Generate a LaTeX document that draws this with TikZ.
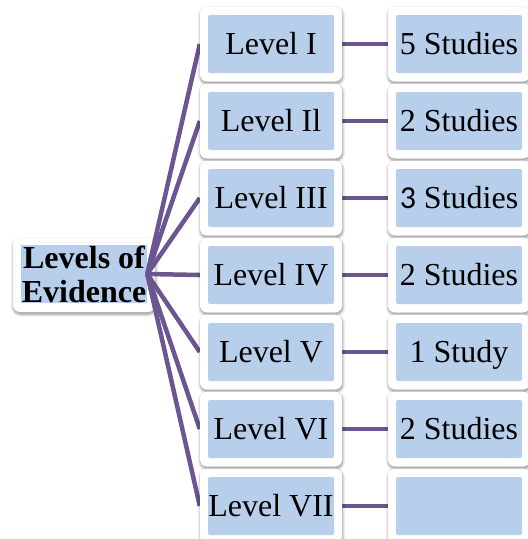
\documentclass[tikz,border=0pt]{standalone}
\usepackage{fontspec}
\setmainfont{Liberation Serif}
\newfontfamily\carlitofont{Carlito}
\usetikzlibrary{shadows.blur}
\definecolor{boxblue}{RGB}{184,207,236}
\definecolor{linkpurple}{RGB}{107,86,145}
\tikzset{
  cardspot/.style={minimum width=142pt, minimum height=75pt, inner sep=0pt},
  card/.style={cardspot, fill=white, rounded corners=7pt,
    blur shadow={shadow xshift=0.5pt, shadow yshift=-2pt, shadow blur radius=3pt, shadow blur steps=8, shadow opacity=45}},
  bluebox/.style={fill=boxblue, rounded corners=2pt, minimum width=126pt, minimum height=58pt, inner sep=0pt,
    font=\fontsize{32}{34}\selectfont, text height=21.2pt, text depth=0pt},
  link/.style={draw=linkpurple, line width=4.5pt}
}
\begin{document}
\begin{tikzpicture}[x=1pt,y=-1pt]
\useasboundingbox (0,0) rectangle (528,539);
% root
\node[card, minimum height=74pt] (root) at (84,275) {};
\node[fill=boxblue, minimum width=126pt, minimum height=58pt, inner sep=0pt] (rootb) at (84,274) {};
\node[font=\fontsize{32}{34}\selectfont\bfseries, align=center, inner sep=0pt] (roott) at (84,274) {Levels of\\Evidence};
% places of the cards
\foreach \i in {1,...,7} {
  \pgfmathsetmacro{\yy}{44+77*(\i-1)}
  \node[cardspot] (L\i) at (271,\yy) {};
  \node[cardspot] (S\i) at (459,\yy) {};
}
% connectors
\foreach \i in {1,...,7} {
  \draw[link] (rootb.east) -- (L\i.west);
  \draw[link] (L\i.east) -- (S\i.west);
}
% cards
\foreach \i/\lt/\st in {1/Level I/5 Studies, 2/Level Il/2 Studies, 3/Level III/{{\carlitofont 3} Studies}, 4/Level IV/2 Studies, 5/Level V/1 Study, 6/Level VI/2 Studies, 7/Level VII/{}} {
  \node[card] (Lc\i) at (L\i) {};
  \node[bluebox] (Lb\i) at (L\i) {\lt};
  \node[card] (Sc\i) at (S\i) {};
  \node[bluebox] (Sb\i) at (S\i) {\st};
}
\end{tikzpicture}
\end{document}
